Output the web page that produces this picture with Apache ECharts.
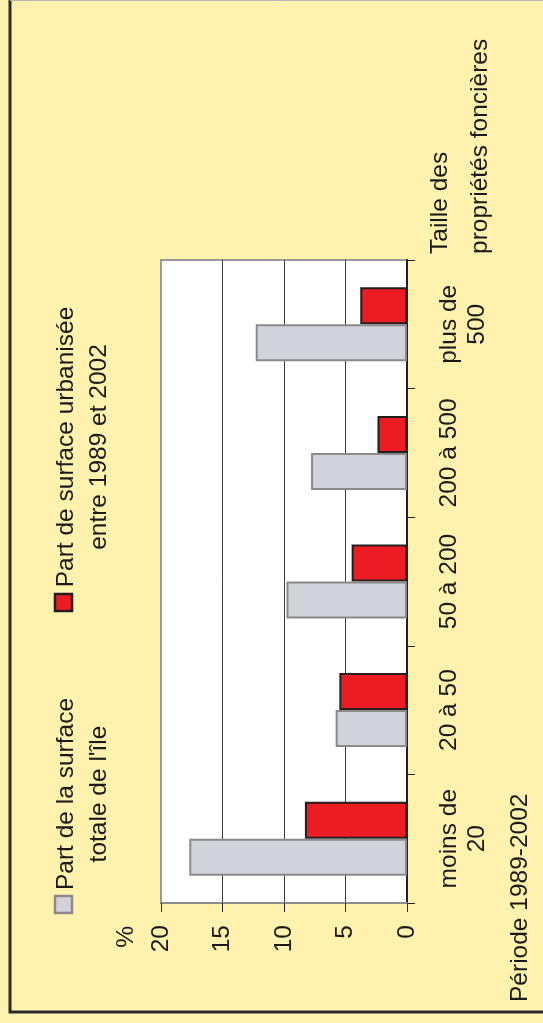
<!DOCTYPE html>
<html>
<head>
<meta charset="utf-8">
<script src="https://cdn.jsdelivr.net/npm/echarts@6/dist/echarts.min.js"></script>
<style>
  html, body { margin: 0; padding: 0; background: #FFF2AF; }
  #chart { width: 543px; height: 1023px; }
</style>
</head>
<body>
<div id="chart"></div>
<script>
// tailles des propriétés (de bas en haut)
const categories = ['moins de\n20', '20 à 50', '50 à 200', '200 à 500', 'plus de\n500'];
// part de la surface totale de l'île (%)
const surfaceTotale = [17.7, 5.8, 9.8, 7.8, 12.3];
// part de la surface urbanisée entre 1989 et 2002 (%)
const surfaceUrbanisee = [8.3, 5.5, 4.5, 2.4, 3.8];
const valueTicks = { min: 0, max: 20, interval: 5 };

const FONT = '"Liberation Sans", Arial, sans-serif';
const FS = 24.5;

const chart = echarts.init(document.getElementById('chart'));

// texte tourné de 90° (lecture de bas en haut)
function vtext(x, y, text, align, valign, lh) {
    return {
        type: 'text', x: x, y: y, rotation: Math.PI / 2, silent: true,
        style: {
            text: text, fill: '#1a1a1a',
            font: FS + 'px ' + FONT,
            align: align, verticalAlign: valign,
            lineHeight: lh || FS
        }
    };
}

const option = {
    animation: false,
    backgroundColor: '#FFF2AF',
    grid: {
        left: 161, right: 136, top: 260, bottom: 120,
        show: true, backgroundColor: '#ffffff',
        borderColor: '#9a9a9a', borderWidth: 2
    },
    xAxis: {
        type: 'value', inverse: true,
        min: valueTicks.min, max: valueTicks.max, interval: valueTicks.interval,
        axisLine: { show: true, lineStyle: { color: '#8c8c8c', width: 2 } },
        axisTick: { show: true, length: 9, lineStyle: { color: '#222', width: 1 } },
        axisLabel: {
            rotate: 90, margin: 22, color: '#1a1a1a',
            fontFamily: FONT, fontSize: FS
        },
        splitLine: {
            show: true, showMinLine: false, showMaxLine: false,
            lineStyle: { color: '#3a3a3a', width: 1 }
        }
    },
    yAxis: {
        type: 'category', position: 'right',
        data: categories,
        axisLine: { show: true, lineStyle: { color: '#222', width: 2 } },
        axisTick: { show: true, length: 8, lineStyle: { color: '#222', width: 1 } },
        axisLabel: {
            rotate: 90, margin: 28, interval: 0, hideOverlap: false,
            color: '#1a1a1a',
            fontFamily: FONT, fontSize: FS, lineHeight: 28,
            align: 'center', verticalAlign: 'top'
        }
    },
    series: [
        {
            name: "Part de surface urbanisée entre 1989 et 2002",
            type: 'bar', data: surfaceUrbanisee,
            barWidth: 37, barGap: '0%',
            itemStyle: { color: '#ED1C24', borderColor: '#231F20', borderWidth: 2 }
        },
        {
            name: "Part de la surface totale de l'île",
            type: 'bar', data: surfaceTotale,
            barWidth: 37, barGap: '0%',
            itemStyle: { color: '#D2D3DA', borderColor: '#8a8a8a', borderWidth: 2 }
        }
    ],
    graphic: [
        // cadre
        {
            type: 'polyline', silent: true,
            shape: { points: [[10, 0], [10, 1012], [543, 1012]] },
            style: { stroke: '#2b2b2b', lineWidth: 3, fill: null }
        },
        {
            type: 'line', silent: true,
            shape: { x1: 10, y1: 0.5, x2: 543, y2: 0.5 },
            style: { stroke: '#b5b5b5', lineWidth: 1 }
        },
        // légende
        {
            type: 'rect', silent: true,
            shape: { x: 55, y: 896, width: 17, height: 17 },
            style: { fill: '#D2D3DA', stroke: '#8a8a8a', lineWidth: 2.5 }
        },
        vtext(50, 794, "Part de la surface\ntotale de l'île", 'center', 'top', 33),
        {
            type: 'rect', silent: true,
            shape: { x: 55, y: 594, width: 17, height: 17 },
            style: { fill: '#ED1C24', stroke: '#231F20', lineWidth: 2.5 }
        },
        vtext(50, 447, 'Part de surface urbanisée\nentre 1989 et 2002', 'center', 'top', 33),
        // unité, titre d'axe et période
        vtext(126, 926, '%', 'right', 'middle'),
        vtext(420, 254, 'Taille des\npropriétés foncières', 'left', 'top', 40),
        vtext(508, 1002, 'Période 1989-2002', 'left', 'top')
    ]
};

chart.setOption(option);
</script>
</body>
</html>
